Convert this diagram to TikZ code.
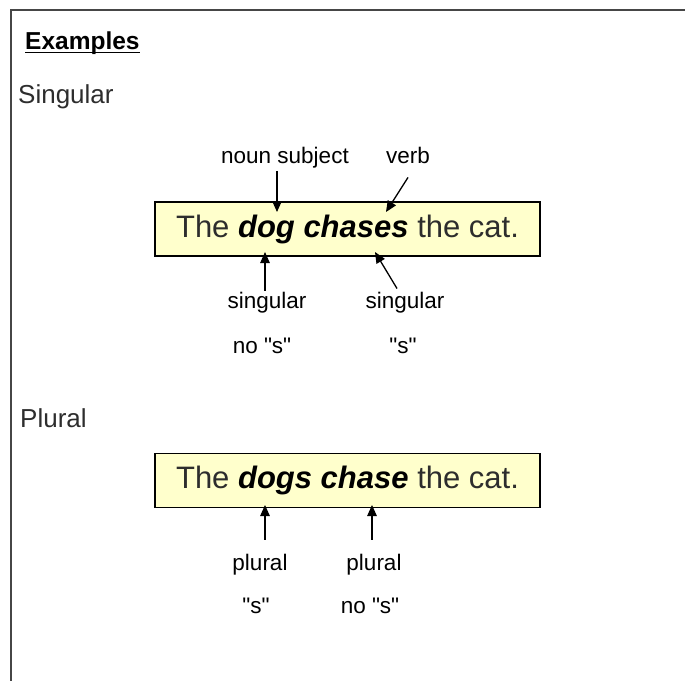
\documentclass[tikz,border=0pt]{standalone}
\usepackage{fontspec}
\setmainfont{Liberation Sans}
\usepackage{xcolor}
\definecolor{exgray}{RGB}{45,45,45}
\definecolor{exframe}{RGB}{70,70,70}
\definecolor{exyellow}{RGB}{255,255,204}
\usepackage{tikz}
\usetikzlibrary{arrows.meta, positioning, calc}

\newcommand{\qs}{\textquotedbl s\textquotedbl}
\newcommand{\hit}[1]{\textcolor{black}{\textbf{\textit{#1}}}}

\tikzset{
  hdg/.style={font=\fontsize{26}{30}\selectfont, exgray, inner sep=0pt, anchor=base west},
  lbl/.style={font=\fontsize{22.5}{26}\selectfont, black, inner sep=1pt, anchor=base},
  sentbox/.style={draw=black, line width=1.4pt, fill=exyellow, minimum width=385pt, minimum height=54pt,
    inner sep=0pt, font=\fontsize{31}{36}\selectfont, text=exgray},
  ptr/.style={-{Triangle[length=11pt,width=9.5pt]}, line width=1.3pt, black}
}

\begin{document}
\begin{tikzpicture}[x=1pt, y=-1pt]
  \useasboundingbox (0,0) rectangle (685,681);
  % frame
  \draw[exframe, line width=2.5pt] (685,10) -- (11,10) -- (11,681);

  % title
  \node[hdg, font=\fontsize{24.5}{30}\selectfont\bfseries, black] (examples) at (25,49) {Examples};
  \draw[line width=1.8pt] ([yshift=-3.5pt]examples.base west) -- ([yshift=-3.5pt]examples.base east);

  % Singular
  \node[hdg] (singular) at (18,103) {Singular};
  \node[sentbox] (sentA) at (347.5,229) {The \hit{dog chases} the cat.};
  \node[lbl] (nounsubj) at (285,163) {noun subject};
  \node[lbl] (verb) at (408,163) {verb};
  \node[lbl] (singA) at (267,308) {singular};
  \node[lbl] (singB) at (405,308) {singular};
  \node[lbl] (nosA) at (262,353) {no \qs};
  \node[lbl] (sA) at (403,353) {\qs};
  \coordinate (dogtop) at (277,212);
  \coordinate (chasestop) at (386,212);
  \coordinate (dogbot) at (265,252);
  \coordinate (chasesbot) at (375,252);
  \draw[ptr, shorten <=2pt] (nounsubj.south -| dogtop) -- (dogtop);
  \draw[ptr] ([yshift=-13pt]verb.south) -- (chasestop);
  \draw[ptr] (singA.north -| dogbot) -- (dogbot);
  \draw[ptr] ([xshift=-8pt,yshift=2pt]singB.north) -- (chasesbot);

  % Plural
  \node[hdg] (plural) at (20,427) {Plural};
  \node[sentbox] (sentB) at (347.5,480.5) {The \hit{dogs chase} the cat.};
  \node[lbl] (plA) at (260,570) {plural};
  \node[lbl] (plB) at (374,570) {plural};
  \node[lbl] (sB) at (256,613) {\qs};
  \node[lbl] (nosB) at (370,613) {no \qs};
  \coordinate (dogsbot) at (265,505);
  \coordinate (chasebot) at (372,505);
  \draw[ptr, shorten <=13pt] (plA.north -| dogsbot) -- (dogsbot);
  \draw[ptr, shorten <=13pt] (plB.north -| chasebot) -- (chasebot);
\end{tikzpicture}
\end{document}
